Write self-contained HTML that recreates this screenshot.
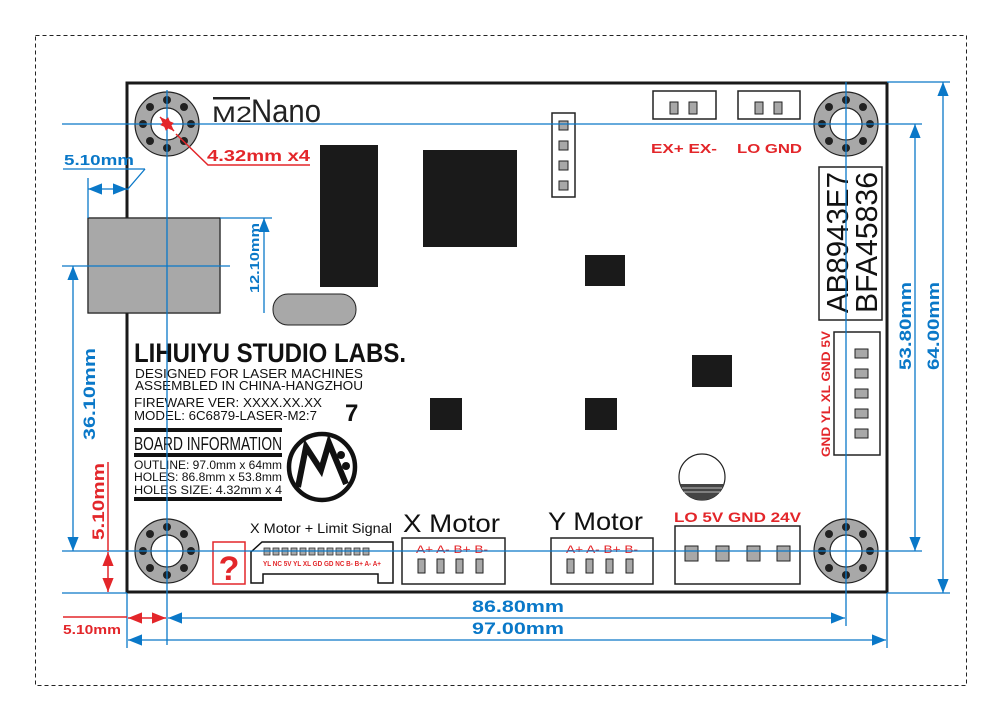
<!DOCTYPE html>
<html><head><meta charset="utf-8"><style>html,body{margin:0;padding:0;background:#fff}svg{display:block}</style></head><body>
<svg width="1000" height="720" viewBox="0 0 1000 720" xmlns="http://www.w3.org/2000/svg" font-family="Liberation Sans, sans-serif">
<defs>
<marker id="ab" viewBox="0 0 10 10" refX="10" refY="5" markerWidth="5" markerHeight="5" orient="auto-start-reverse" markerUnits="userSpaceOnUse"><path d="M0,0 L10,5 L0,10z" fill="#0a78c8"/></marker>
<marker id="bb" viewBox="0 0 10 10" refX="10" refY="5" markerWidth="14" markerHeight="14" orient="auto-start-reverse" markerUnits="userSpaceOnUse"><path d="M0,1 L10,5 L0,9z" fill="#0a78c8"/></marker>
<marker id="rb" viewBox="0 0 10 10" refX="10" refY="5" markerWidth="14" markerHeight="14" orient="auto-start-reverse" markerUnits="userSpaceOnUse"><path d="M0,1 L10,5 L0,9z" fill="#e3262a"/></marker>
<g id="hole">
<circle r="32" fill="#a8a8a8" stroke="#222" stroke-width="1.2"/>
<circle r="16" fill="#fff" stroke="#222" stroke-width="1.2"/>
<g fill="#222"><circle cx="24" cy="0" r="4"/><circle cx="-24" cy="0" r="4"/><circle cx="0" cy="24" r="4"/><circle cx="0" cy="-24" r="4"/><circle cx="17" cy="17" r="4"/><circle cx="-17" cy="17" r="4"/><circle cx="17" cy="-17" r="4"/><circle cx="-17" cy="-17" r="4"/></g>
</g>
</defs>
<rect x="35.5" y="35.5" width="931" height="650" fill="none" stroke="#222" stroke-dasharray="4,3" stroke-width="1"/>
<!-- gray USB block -->
<rect x="88" y="218" width="132" height="95" fill="#a8a8a8" stroke="#222" stroke-width="1.2"/>
<!-- board -->
<rect x="127" y="83" width="760" height="509" fill="none" stroke="#1a1a1a" stroke-width="3"/>
<rect x="88" y="218" width="132" height="95" fill="#a8a8a8" stroke="#222" stroke-width="1.2"/>
<use href="#hole" x="167" y="124"/><use href="#hole" x="846" y="124"/><use href="#hole" x="167" y="551"/><use href="#hole" x="846" y="551"/>
<!-- M2Nano -->
<rect x="213" y="97" width="37" height="2.5" fill="#222"/>
<text x="212" y="122" font-size="22" fill="#222" textLength="40" lengthAdjust="spacingAndGlyphs">M2</text>
<text x="251" y="122" font-size="32" fill="#222" textLength="70" lengthAdjust="spacingAndGlyphs">Nano</text>
<!-- chips -->
<rect x="320" y="145" width="58" height="142" fill="#1a1a1a"/>
<rect x="423" y="150" width="94" height="97" fill="#1a1a1a"/>
<rect x="585" y="255" width="40" height="31" fill="#1a1a1a"/>
<rect x="692" y="355" width="40" height="32" fill="#1a1a1a"/>
<rect x="430" y="398" width="32" height="32" fill="#1a1a1a"/>
<rect x="585" y="398" width="32" height="32" fill="#1a1a1a"/>
<rect x="273" y="294" width="83" height="31" rx="15" fill="#a8a8a8" stroke="#222"/>
<!-- small 4-pin -->
<rect x="552" y="113" width="23" height="84" fill="#fff" stroke="#222" stroke-width="1.5"/>
<g fill="#a8a8a8" stroke="#222"><rect x="559" y="121" width="9" height="9"/><rect x="559" y="141" width="9" height="9"/><rect x="559" y="161" width="9" height="9"/><rect x="559" y="181" width="9" height="9"/></g>
<!-- EX / LO connectors -->
<rect x="653" y="91" width="63" height="28" fill="#fff" stroke="#222" stroke-width="1.5"/>
<rect x="738" y="91" width="62" height="28" fill="#fff" stroke="#222" stroke-width="1.5"/>
<g fill="#a8a8a8" stroke="#222"><rect x="670" y="102" width="8" height="12"/><rect x="689" y="102" width="8" height="12"/><rect x="755" y="102" width="8" height="12"/><rect x="774" y="102" width="8" height="12"/></g>
<g fill="#e3262a" font-size="13" font-weight="bold">
<text x="651" y="153" textLength="66" lengthAdjust="spacingAndGlyphs">EX+ EX-</text>
<text x="737" y="153" textLength="65" lengthAdjust="spacingAndGlyphs">LO  GND</text>
</g>
<!-- label box -->
<rect x="819" y="167" width="63" height="153" fill="#fff" stroke="#222" stroke-width="1.5"/>
<text transform="translate(848,313) rotate(-90)" font-size="31" fill="#111" textLength="141" lengthAdjust="spacingAndGlyphs">AB8943E7</text>
<text transform="translate(877,313) rotate(-90)" font-size="31" fill="#111" textLength="141" lengthAdjust="spacingAndGlyphs">BFA45836</text>
<!-- right 5-pin -->
<rect x="834" y="332" width="46" height="123" fill="#fff" stroke="#222" stroke-width="1.5"/>
<g fill="#a8a8a8" stroke="#222"><rect x="855" y="349" width="13" height="9"/><rect x="855" y="369" width="13" height="9"/><rect x="855" y="389" width="13" height="9"/><rect x="855" y="409" width="13" height="9"/><rect x="855" y="429" width="13" height="9"/></g>
<text transform="translate(830,457) rotate(-90)" font-size="12" font-weight="bold" fill="#e3262a" textLength="126" lengthAdjust="spacingAndGlyphs">GND YL XL GND 5V</text>
<!-- round component -->
<circle cx="702" cy="477" r="23" fill="#fff" stroke="#222" stroke-width="1.2"/>
<path d="M680,484 L724,484 A23,23 0 0 1 680,484z" fill="#444"/>
<g stroke="#bbb" stroke-width="1"><line x1="682" y1="488" x2="722" y2="488"/><line x1="684" y1="492" x2="720" y2="492"/></g>
<!-- text block -->
<text x="134" y="362" font-size="27" font-weight="bold" fill="#111" textLength="272" lengthAdjust="spacingAndGlyphs">LIHUIYU STUDIO LABS.</text>
<g font-size="12.5" fill="#111">
<text x="135" y="378" textLength="228" lengthAdjust="spacingAndGlyphs">DESIGNED FOR LASER MACHINES</text>
<text x="135" y="390" textLength="228" lengthAdjust="spacingAndGlyphs">ASSEMBLED IN CHINA-HANGZHOU</text>
<text x="134" y="407" textLength="188" lengthAdjust="spacingAndGlyphs">FIREWARE VER: XXXX.XX.XX</text>
<text x="134" y="420" textLength="183" lengthAdjust="spacingAndGlyphs">MODEL: 6C6879-LASER-M2:7</text>
</g>
<text x="345" y="421" font-size="24" font-weight="bold" fill="#111">7</text>
<rect x="134" y="428" width="148" height="4" fill="#111"/>
<text x="134" y="450" font-size="18" fill="#111" textLength="148" lengthAdjust="spacingAndGlyphs">BOARD INFORMATION</text>
<rect x="134" y="453" width="148" height="4" fill="#111"/>
<g font-size="11.5" fill="#111">
<text x="134" y="469" textLength="148" lengthAdjust="spacingAndGlyphs">OUTLINE: 97.0mm x 64mm</text>
<text x="134" y="481" textLength="148" lengthAdjust="spacingAndGlyphs">HOLES: 86.8mm x 53.8mm</text>
<text x="134" y="494" textLength="148" lengthAdjust="spacingAndGlyphs">HOLES  SIZE: 4.32mm x 4</text>
</g>
<rect x="134" y="497" width="148" height="4" fill="#111"/>
<!-- M logo -->
<circle cx="322" cy="467" r="33" fill="#fff" stroke="#111" stroke-width="4.5"/>
<path d="M298,487 L306,447 L321,470 L329,443 L346,484" fill="none" stroke="#111" stroke-width="6" stroke-linejoin="miter"/>
<circle cx="341" cy="455" r="4" fill="#111"/><circle cx="346" cy="466" r="4" fill="#111"/>
<!-- ? box -->
<rect x="213" y="542" width="32" height="42" fill="#fff" stroke="#e3262a" stroke-width="1.5"/>
<text x="229" y="580" font-size="34" font-weight="bold" fill="#e3262a" text-anchor="middle">?</text>
<!-- X motor + limit -->
<text x="250" y="533" font-size="13.5" fill="#111" textLength="142" lengthAdjust="spacingAndGlyphs">X Motor + Limit Signal</text>
<path d="M251,583 L251,552 L262,542 L393,542 L393,583 L378,583 L378,574 L263,574 L263,583z" fill="#fff" stroke="#111" stroke-width="1.5"/>
<g fill="#a8a8a8" stroke="#333" stroke-width="0.8">
<rect x="264" y="548" width="6" height="7"/><rect x="273" y="548" width="6" height="7"/><rect x="282" y="548" width="6" height="7"/><rect x="291" y="548" width="6" height="7"/><rect x="300" y="548" width="6" height="7"/><rect x="309" y="548" width="6" height="7"/><rect x="318" y="548" width="6" height="7"/><rect x="327" y="548" width="6" height="7"/><rect x="336" y="548" width="6" height="7"/><rect x="345" y="548" width="6" height="7"/><rect x="354" y="548" width="6" height="7"/><rect x="363" y="548" width="6" height="7"/></g>
<text x="263" y="566" font-size="7.5" font-weight="bold" fill="#e3262a" textLength="118" lengthAdjust="spacingAndGlyphs">YL NC 5V YL XL GD GD NC B- B+ A- A+</text>
<!-- X / Y motors -->
<text x="403" y="532" font-size="25" fill="#111" textLength="97" lengthAdjust="spacingAndGlyphs">X Motor</text>
<text x="548" y="530" font-size="25" fill="#111" textLength="95" lengthAdjust="spacingAndGlyphs">Y Motor</text>
<rect x="402" y="538" width="103" height="46" fill="#fff" stroke="#222" stroke-width="1.5"/>
<rect x="551" y="538" width="102" height="46" fill="#fff" stroke="#222" stroke-width="1.5"/>
<g font-size="11" fill="#e3262a"><text x="416" y="553" textLength="72" lengthAdjust="spacingAndGlyphs">A+ A- B+ B-</text><text x="566" y="553" textLength="72" lengthAdjust="spacingAndGlyphs">A+ A- B+ B-</text></g>
<g fill="#a8a8a8" stroke="#222"><rect x="418" y="559" width="7" height="14"/><rect x="437" y="559" width="7" height="14"/><rect x="456" y="559" width="7" height="14"/><rect x="476" y="559" width="7" height="14"/>
<rect x="567" y="559" width="7" height="14"/><rect x="586" y="559" width="7" height="14"/><rect x="606" y="559" width="7" height="14"/><rect x="626" y="559" width="7" height="14"/></g>
<!-- power connector -->
<text x="674" y="522" font-size="14" font-weight="bold" fill="#e3262a" textLength="127" lengthAdjust="spacingAndGlyphs">LO 5V GND 24V</text>
<rect x="675" y="526" width="125" height="58" fill="#fff" stroke="#222" stroke-width="1.5"/>
<g fill="#a8a8a8" stroke="#222"><rect x="685" y="546" width="13" height="15"/><rect x="716" y="546" width="13" height="15"/><rect x="747" y="546" width="13" height="15"/><rect x="777" y="546" width="13" height="15"/></g>
<!-- blue guide lines -->
<g stroke="#0a78c8" stroke-width="1.3" fill="none">
<line x1="62" y1="124" x2="922" y2="124"/>
<line x1="62" y1="551" x2="922" y2="551"/>
<line x1="167" y1="90" x2="167" y2="645"/>
<line x1="846" y1="82" x2="846" y2="626"/>
<line x1="887" y1="82" x2="950" y2="82"/>
<line x1="887" y1="593" x2="950" y2="593"/>
<line x1="62" y1="593" x2="127" y2="593"/>
<line x1="127" y1="593" x2="127" y2="648"/>
<line x1="887" y1="593" x2="887" y2="648"/>
<line x1="62" y1="266" x2="230" y2="266"/>
<line x1="220" y1="218" x2="272" y2="218"/>
<line x1="88" y1="178" x2="88" y2="218"/>
<line x1="63" y1="169" x2="145" y2="169"/>
<line x1="145" y1="169" x2="127" y2="190"/>
<line x1="73" y1="266" x2="73" y2="551" marker-start="url(#bb)" marker-end="url(#bb)"/>
<line x1="264" y1="218" x2="264" y2="313" marker-start="url(#bb)"/>
<line x1="88" y1="189" x2="127" y2="189" marker-start="url(#bb)" marker-end="url(#bb)"/>
<line x1="915" y1="124" x2="915" y2="551" marker-start="url(#bb)" marker-end="url(#bb)"/>
<line x1="943" y1="82" x2="943" y2="593" marker-start="url(#bb)" marker-end="url(#bb)"/>
<line x1="168" y1="618" x2="845" y2="618" marker-start="url(#bb)" marker-end="url(#bb)"/>
<line x1="128" y1="640" x2="886" y2="640" marker-start="url(#bb)" marker-end="url(#bb)"/>
</g>
<g fill="#0a78c8" font-weight="bold">
<text x="64" y="165" font-size="15" textLength="70" lengthAdjust="spacingAndGlyphs">5.10mm</text>
<text transform="translate(259,293) rotate(-90)" font-size="13" textLength="70" lengthAdjust="spacingAndGlyphs">12.10mm</text>
<text transform="translate(95,440) rotate(-90)" font-size="17" textLength="92" lengthAdjust="spacingAndGlyphs">36.10mm</text>
<text transform="translate(911,370) rotate(-90)" font-size="17" textLength="88" lengthAdjust="spacingAndGlyphs">53.80mm</text>
<text transform="translate(939,370) rotate(-90)" font-size="17" textLength="88" lengthAdjust="spacingAndGlyphs">64.00mm</text>
<text x="472" y="612" font-size="17" textLength="92" lengthAdjust="spacingAndGlyphs">86.80mm</text>
<text x="472" y="634" font-size="17" textLength="92" lengthAdjust="spacingAndGlyphs">97.00mm</text>
</g>
<!-- red dims -->
<g stroke="#e3262a" stroke-width="1.5" fill="none">
<line x1="108" y1="552" x2="108" y2="592" marker-start="url(#rb)" marker-end="url(#rb)"/>
<line x1="108" y1="462" x2="108" y2="551"/>
<line x1="128" y1="618" x2="166" y2="618" marker-start="url(#rb)" marker-end="url(#rb)"/>
<line x1="63" y1="617" x2="127" y2="617"/>
<line x1="160" y1="117" x2="174" y2="131" marker-start="url(#rb)" marker-end="url(#rb)"/>
<polyline points="176,134 208,165 310,165"/>
</g>
<g fill="#e3262a" font-weight="bold">
<text x="207" y="161" font-size="16" textLength="103" lengthAdjust="spacingAndGlyphs">4.32mm x4</text>
<text transform="translate(104,540) rotate(-90)" font-size="17" textLength="77" lengthAdjust="spacingAndGlyphs">5.10mm</text>
<text x="63" y="634" font-size="13" textLength="58" lengthAdjust="spacingAndGlyphs">5.10mm</text>
</g>
</svg>
</body></html>
